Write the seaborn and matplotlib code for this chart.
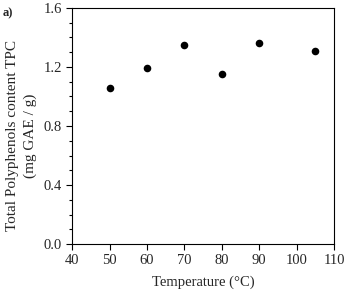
import matplotlib
matplotlib.use("Agg")
import matplotlib.pyplot as plt
import seaborn as sns
import pandas as pd
from matplotlib.ticker import MultipleLocator

# data
temperature = [50, 60, 70, 80, 90, 105]
tpc = [1.06, 1.19, 1.35, 1.155, 1.36, 1.31]

data = pd.DataFrame({"temperature": temperature, "tpc": tpc})

sns.set_style("white")
plt.rcParams["font.family"] = "serif"
plt.rcParams["font.serif"] = ["Liberation Serif", "DejaVu Serif"]

fig = plt.figure(figsize=(3.52, 2.93), dpi=100)
ax = fig.add_axes([0.205, 0.167, 0.744, 0.806])

sns.scatterplot(x="temperature", y="tpc", data=data, ax=ax,
                color="black", s=30, edgecolor="black", linewidth=0)

ax.set_xlim(40, 110)
ax.set_ylim(0, 1.6)
ax.xaxis.set_major_locator(MultipleLocator(10))
ax.yaxis.set_major_locator(MultipleLocator(0.4))
ax.yaxis.set_minor_locator(MultipleLocator(0.1))
ax.yaxis.set_major_formatter(plt.FormatStrFormatter("%.1f"))

ax.tick_params(axis="both", which="major", direction="out", length=4,
               width=0.8, labelsize=10.5, color="black", bottom=True, left=True)
ax.tick_params(axis="y", which="minor", direction="out", length=2.5,
               width=0.8, color="black", left=True)

for sp in ax.spines.values():
    sp.set_color("black")
    sp.set_linewidth(0.8)

ax.set_xlabel("Temperature (°C)", fontsize=10.5, labelpad=6)
ax.set_ylabel("Total Polyphenols content TPC\n(mg GAE / g)", fontsize=11,
              linespacing=1.4)
ax.yaxis.set_label_coords(-0.135, 0.46)

fig.text(0.008, 0.955, "a)", fontsize=9, fontweight="bold", ha="left", va="center")

fig.savefig("out.png", dpi=100)
